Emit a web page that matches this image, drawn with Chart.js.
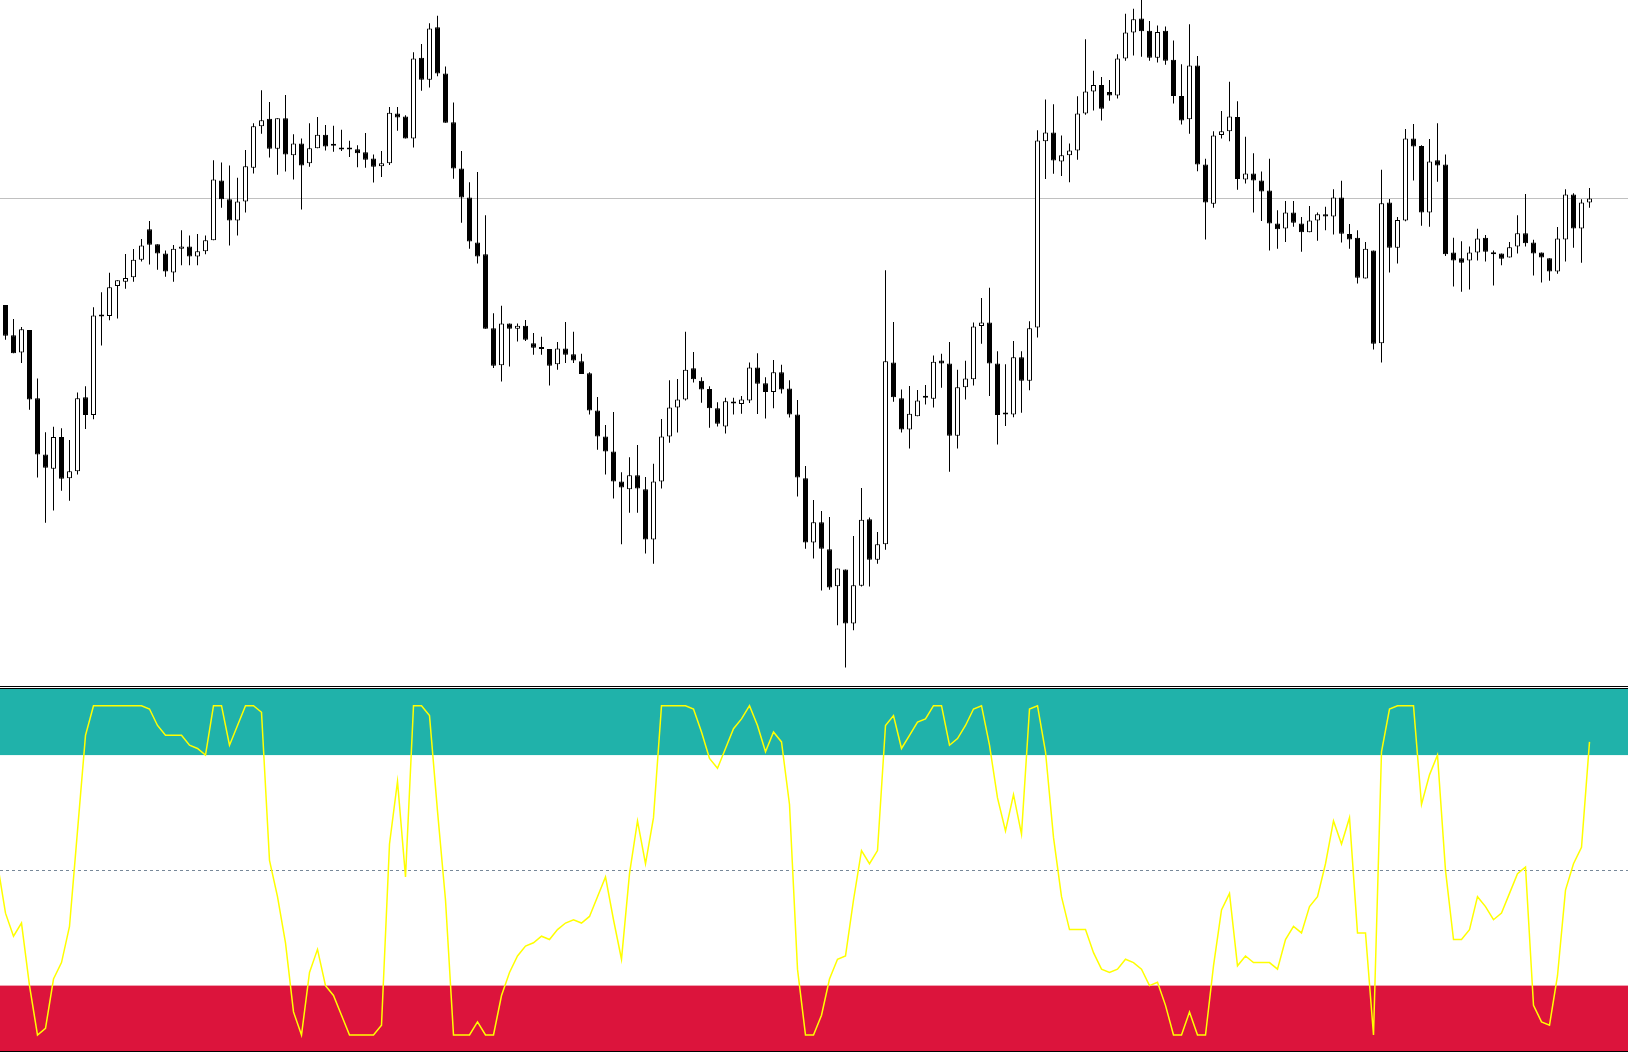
<!DOCTYPE html>
<html><head><meta charset="utf-8">
<script src="https://cdn.jsdelivr.net/npm/chart.js@4.4.1/dist/chart.umd.min.js"></script>
<style>
html,body{margin:0;padding:0;background:#fff;overflow:hidden;}
#wrap{position:relative;width:1628px;height:1053px;background:#fff;}
.box{position:absolute;left:0;width:1628px;}
.sep{position:absolute;left:0;width:1628px;height:1px;background:#000;}
</style></head><body>
<div id="wrap">
  <div class="box" style="top:0;height:686px"><canvas id="main" width="1628" height="686"></canvas></div>
  <div class="sep" style="top:686px"></div>
  <div class="sep" style="top:688px"></div>
  <div class="box" style="top:689px;height:362px"><canvas id="osc" width="1628" height="362"></canvas></div>
  <div class="sep" style="top:1051px"></div>
</div>
<script>
// ---- price data (arbitrary price units) ----
const openPrices = [875,806,767,818,663,535,503,575,481,497,
665,625,849,850,918,928,938,978,1047,1013,
992,949,1003,1008,985,997,1022,1158,1115,1067,
1110,1187,1281,1298,1230,1299,1215,1242,1197,1231,
1262,1237,1228,1232,1229,1222,1208,1190,1197,1310,
1303,1253,1437,1387,1506,1401,1290,1185,1119,1017,
990,822,738,833,821,828,788,775,775,740,
776,763,747,720,635,576,542,474,456,488,
456,342,474,576,642,660,731,703,684,640,
599,651,650,658,733,697,677,722,685,626,
481,335,381,320,236,274,151,237,388,296,
331,744,663,592,622,664,662,749,742,578,
688,706,827,835,742,626,626,756,703,824,
1247,1267,1201,1215,1226,1310,1360,1375,1359,1351,
1435,1494,1526,1498,1437,1498,1432,1350,1297,1419,
1194,1105,1261,1270,1302,1160,1174,1158,1135,1060,
1049,1085,1060,1040,1067,1081,1076,1119,1036,1028,
935,999,788,1108,1005,1067,1253,1236,1085,1204,
1194,994,981,976,994,1028,990,992,983,1008,
1038,1017,994,981,951,1024,1126,1049,1108];
const highPrices = [875,843,825,818,708,586,598,595,568,676,
690,870,904,948,931,991,1002,1025,1066,1013,
999,1011,1045,1033,1036,1033,1204,1199,1192,1164,
1227,1288,1363,1336,1299,1352,1263,1253,1288,1302,
1284,1282,1273,1248,1238,1266,1217,1225,1325,1325,
1306,1449,1468,1515,1532,1417,1335,1225,1154,1177,
1079,856,873,833,833,841,811,803,775,791,
836,814,764,722,666,602,632,495,529,557,
484,514,616,704,707,814,768,711,690,654,
664,664,668,744,765,711,750,739,704,659,
509,432,407,393,276,274,350,459,392,359,
954,836,683,691,682,693,760,764,791,728,
748,835,891,914,770,740,793,770,838,1272,
1342,1331,1260,1242,1349,1479,1407,1393,1386,1445,
1537,1548,1568,1520,1510,1508,1476,1422,1513,1441,
1207,1270,1316,1382,1338,1257,1220,1178,1207,1090,
1111,1111,1075,1100,1085,1098,1138,1157,1059,1045,
1018,999,1182,1116,1075,1275,1286,1238,1252,1288,
1217,1028,1020,1008,1048,1034,999,992,1018,1079,
1127,1023,994,981,1052,1138,1129,1115,1141];
const lowPrices = [796,765,743,637,483,380,408,453,430,490,
593,615,783,840,844,912,928,974,967,955,
939,928,965,965,965,990,1022,1096,1010,1033,
1085,1174,1264,1210,1171,1178,1160,1092,1189,1231,
1226,1223,1225,1211,1188,1187,1153,1166,1193,1271,
1253,1233,1362,1369,1395,1289,1162,1062,1003,969,
821,732,701,735,792,793,762,762,692,728,
743,743,718,626,546,490,435,331,403,403,
310,287,458,562,585,658,699,653,596,599,
583,626,628,652,627,617,640,674,619,440,
321,299,226,228,147,51,136,235,235,287,
319,655,585,549,622,649,642,687,496,549,
660,692,787,668,558,600,620,630,681,801,
1161,1173,1168,1154,1205,1307,1317,1294,1339,1344,
1430,1442,1439,1430,1426,1421,1333,1285,1264,1179,
1024,1096,1253,1247,1137,1151,1085,1066,999,1003,
1018,1053,996,1040,1021,1045,1035,1017,1003,924,
935,774,744,949,969,1065,1158,1055,1053,1155,
986,917,905,910,976,974,919,965,983,992,
1008,942,926,930,946,974,1005,971,1096];
const closePrices = [805,765,820,660,535,505,575,480,497,663,
625,851,850,915,931,936,978,1010,1012,992,
951,1003,1008,985,997,1022,1160,1115,1067,1110,
1190,1281,1295,1230,1299,1217,1242,1192,1231,1262,
1235,1238,1228,1228,1220,1205,1189,1197,1312,1301,
1253,1435,1387,1503,1401,1289,1185,1119,1019,985,
821,737,833,821,828,796,778,775,737,776,
762,749,718,635,576,542,474,460,488,458,
342,474,576,642,660,728,706,683,640,605,
656,651,660,733,696,677,722,683,626,483,
335,381,321,233,276,151,238,387,296,331,
747,665,592,628,658,664,746,742,578,688,
708,826,835,742,625,626,756,703,822,1249,
1267,1203,1215,1226,1310,1360,1375,1321,1351,1435,
1494,1524,1497,1437,1495,1430,1350,1294,1419,1194,
1108,1260,1270,1303,1161,1174,1158,1133,1060,1047,
1085,1062,1040,1067,1081,1076,1119,1037,1024,937,
1003,787,1106,1005,1068,1253,1235,1085,1201,1192,
990,976,971,994,1026,996,994,980,1006,1038,
1015,992,983,951,1026,1126,1049,1108,1117];
const bidPrice = 1117;
const barLabels = openPrices.map((_, i) => String(i + 1));

// ---- oscillator (0..100); first value belongs to the bar just left of the window ----
const oscFirstIndex = -1;
const oscValues = [52,
37,30,34,15,0,2,17,22,33,62,
91,100,100,100,100,100,100,100,99,94,
91,91,91,88,87,85,100,100,88,94,
100,100,98,53,42,28,7,0,19,26,
15,12,6,0,0,0,0,3,58,77,
48,100,100,97,68,41,0,0,0,4,
0,0,12,19,24,27,28,30,29,32,
34,35,34,36,42,48,35,23,49,65,
52,66,100,100,100,100,99,92,84,81,
87,93,96,100,94,86,92,89,70,20,
0,0,6,17,23,24,41,56,52,56,
94,97,87,91,95,96,100,100,88,90,
94,99,100,88,72,62,73,61,99,100,
86,60,42,32,32,32,25,20,19,20,
23,22,20,15,16,9,0,0,7,0,
0,21,38,43,21,24,22,22,22,20,
29,33,31,39,42,52,65,58,66,31,
31,0,86,99,100,100,100,70,79,85,
50,29,29,32,42,39,35,37,43,49,
51,9,4,3,18,44,52,57,89];
const overboughtLevel = 85;
const oversoldLevel = 15;
const middleLevel = 50;

// ---- oscillator x range: bar i sits at pixel 5.5 + 8*i ----
const xMin = -0.6875, xMax = 202.8125;

const wickData = openPrices.map((o, i) => [lowPrices[i], highPrices[i]]);
const bodyData = openPrices.map((o, i) => [o, closePrices[i]]);
const bodyFill = openPrices.map((o, i) => closePrices[i] > o ? '#ffffff' : '#000000');

const bidLinePlugin = {
  id: 'bidLine',
  beforeDatasetsDraw(chart) {
    const {ctx, scales} = chart;
    const y = Math.round(scales.y.getPixelForValue(bidPrice)) + 0.5;
    ctx.save();
    ctx.strokeStyle = '#c0c0c0';
    ctx.lineWidth = 1;
    ctx.beginPath();
    ctx.moveTo(0, y);
    ctx.lineTo(chart.width, y);
    ctx.stroke();
    ctx.restore();
  }
};

new Chart(document.getElementById('main'), {
  type: 'bar',
  data: {
    labels: barLabels,
    datasets: [
      {data: wickData, backgroundColor: '#000000', borderWidth: 0, barThickness: 1,
       grouped: false, order: 2, inflateAmount: 0},
      {data: bodyData, backgroundColor: bodyFill, borderColor: '#000000', borderWidth: 1,
       borderSkipped: false, barThickness: 5, grouped: false, order: 1, minBarLength: 2, inflateAmount: 0}
    ]
  },
  options: {
    responsive: false, animation: false, events: [],
    layout: {padding: {left: 1.5, right: 34.5, top: 0, bottom: 0}},
    plugins: {legend: {display: false}, tooltip: {enabled: false}},
    scales: {
      x: {type: 'category', offset: true, display: false},
      y: {min: 9.1, max: 1568, display: false, beginAtZero: false}
    }
  },
  plugins: [bidLinePlugin]
});

const bandPlugin = {
  id: 'bands',
  beforeDatasetsDraw(chart) {
    const {ctx, chartArea, scales} = chart;
    const ys = scales.y;
    const yTop = ys.getPixelForValue(ys.max);
    const yOB = ys.getPixelForValue(overboughtLevel);
    const yOS = ys.getPixelForValue(oversoldLevel);
    const yBot = ys.getPixelForValue(ys.min);
    const yMid = Math.round(ys.getPixelForValue(middleLevel)) + 0.5;
    ctx.save();
    ctx.fillStyle = '#20B2AA';
    ctx.fillRect(chartArea.left, yTop, chartArea.right - chartArea.left, yOB - yTop);
    ctx.fillStyle = '#DC143C';
    ctx.fillRect(chartArea.left, yOS, chartArea.right - chartArea.left, yBot - yOS);
    ctx.strokeStyle = '#778899';
    ctx.lineWidth = 1;
    ctx.setLineDash([3, 3]);
    ctx.beginPath();
    ctx.moveTo(chartArea.left, yMid);
    ctx.lineTo(chartArea.right, yMid);
    ctx.stroke();
    ctx.restore();
  }
};

new Chart(document.getElementById('osc'), {
  type: 'line',
  data: {
    datasets: [{
      data: oscValues.map((v, i) => ({x: i + oscFirstIndex, y: v})),
      borderColor: '#FFFF00', borderWidth: 1.5, pointRadius: 0, tension: 0, fill: false
    }]
  },
  options: {
    responsive: false, animation: false, events: [],
    layout: {padding: 0},
    plugins: {legend: {display: false}, tooltip: {enabled: false}},
    scales: {
      x: {type: 'linear', min: xMin, max: xMax, display: false},
      y: {min: -4.86, max: 105.07, display: false}
    }
  },
  plugins: [bandPlugin]
});
</script>
</body></html>
